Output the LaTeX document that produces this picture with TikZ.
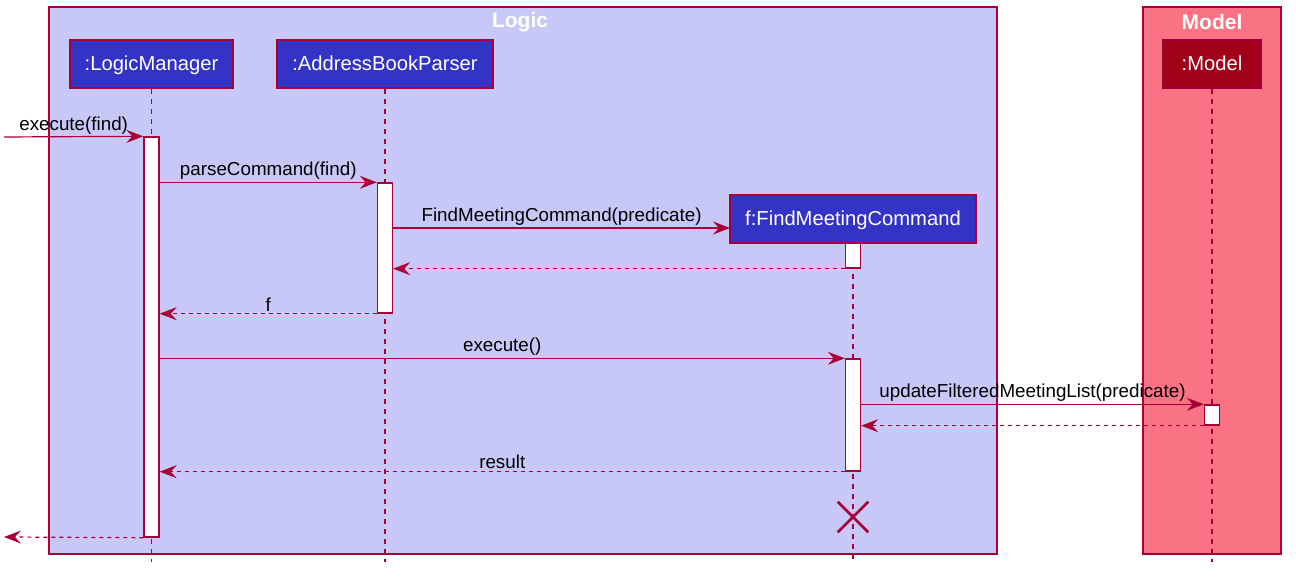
\documentclass[tikz,border=0pt]{standalone}
\usepackage{fontspec}
\setmainfont{Liberation Sans}
\usetikzlibrary{arrows.meta,shapes.misc}

\definecolor{umlred}{HTML}{A80036}
\definecolor{logicbg}{HTML}{C8C8F8}
\definecolor{modelbg}{HTML}{F97384}
\definecolor{logicpart}{HTML}{3333C6}
\definecolor{modelpart}{HTML}{A0001A}

\tikzset{
  group/.style={draw=umlred, line width=0.7pt},
  grouptitle/.style={text=white, font=\fontsize{10.5}{12}\selectfont\bfseries, inner sep=0pt},
  part/.style={draw=umlred, line width=0.9pt, text=white, minimum height=24pt,
    inner xsep=7.5pt, text height=8pt, text depth=1pt, font=\fontsize{10.1}{12}\selectfont},
  life/.style={umlred, line width=0.6pt, dash pattern=on 2.5pt off 2.5pt},
  act/.style={draw=umlred, fill=white, line width=0.7pt, minimum width=7.5pt, inner sep=0pt},
  msg/.style={umlred, line width=0.6pt, -{Stealth[length=8.5pt,width=6.5pt,inset=3pt]}},
  ret/.style={msg, dash pattern=on 2pt off 2pt},
  lbl/.style={text=black, font=\fontsize{9.4}{11}\selectfont, inner sep=0pt, above=1pt}
}

\begin{document}
\begin{tikzpicture}[x=0.5pt, y=-0.5pt]
    \useasboundingbox (0,0) rectangle (1296,581);

    % Groups
    \draw[group, fill=logicbg] (49,7) rectangle (997,554);
    \draw[group, fill=modelbg] (1143,7) rectangle (1281,554);
    \node[grouptitle] (logicTitle) at (520,22) {Logic};
    \node[grouptitle] (modelTitle) at (1212,22) {Model};

    % Participants
    \node[part, fill=logicpart] (lm) at (151.5,64) {:LogicManager};
    \node[part, fill=logicpart] (abp) at (385,64) {:AddressBookParser};
    \node[part, fill=modelpart, minimum width=49pt] (model) at (1212,64) {:Model};
    \node[part, fill=logicpart] (fmc) at (853,219) {f:FindMeetingCommand};

    % Lifelines
    \coordinate (lmEnd) at (151.5,562);
    \coordinate (abpEnd) at (385,562);
    \coordinate (fmcEnd) at (853,562);
    \coordinate (modelEnd) at (1212,562);
    \draw[life] (lm.south) -- (lmEnd);
    \draw[life] (abp.south) -- (abpEnd);
    \draw[life] (fmc.south) -- (fmcEnd);
    \draw[life] (model.south) -- (modelEnd);

    % Activations
    \node[act, minimum height=200pt] (lmA) at (151.5,337) {};
    \node[act, minimum height=65pt] (abpA) at (385,248) {};
    \node[act, minimum height=12.5pt] (fmcA) at (853,255.5) {};
    \node[act, minimum height=56pt] (fmcB) at (853,415) {};
    \node[act, minimum height=10pt] (modelA) at (1212,415) {};

    % Destroy mark
    \node[draw=umlred, cross out, line width=1.3pt, minimum size=14pt] (fmcX) at (853,517) {};

    % Messages
    \coordinate (inL) at (4,137);
    \coordinate (outL) at (4,537);
    \coordinate (fmcIn) at (730,228);
    \draw[msg] (inL) -- node[lbl] {execute(find)} (lmA.north west);
    \draw[msg] (lmA.east |- abpA.north) -- node[lbl] {parseCommand(find)} (abpA.north west);
    \draw[msg] (abpA.east |- fmcIn) -- node[lbl] {FindMeetingCommand(predicate)} (fmcIn);
    \draw[ret] (fmcA.south west) -- (abpA.east |- fmcA.south);
    \draw[ret] (abpA.south west) -- node[lbl] {f} (lmA.east |- abpA.south);
    \draw[msg] (lmA.east |- fmcB.north) -- node[lbl] {execute()} (fmcB.north west);
    \draw[msg] (fmcB.east |- modelA.north) -- node[lbl] {updateFilteredMeetingList(predicate)} (modelA.north west);
    \draw[ret] (modelA.south west) -- (fmcB.east |- modelA.south);
    \draw[ret] (fmcB.south west) -- node[lbl] {result} (lmA.east |- fmcB.south);
    \draw[ret] (lmA.south west) -- (outL);
\end{tikzpicture}
\end{document}
